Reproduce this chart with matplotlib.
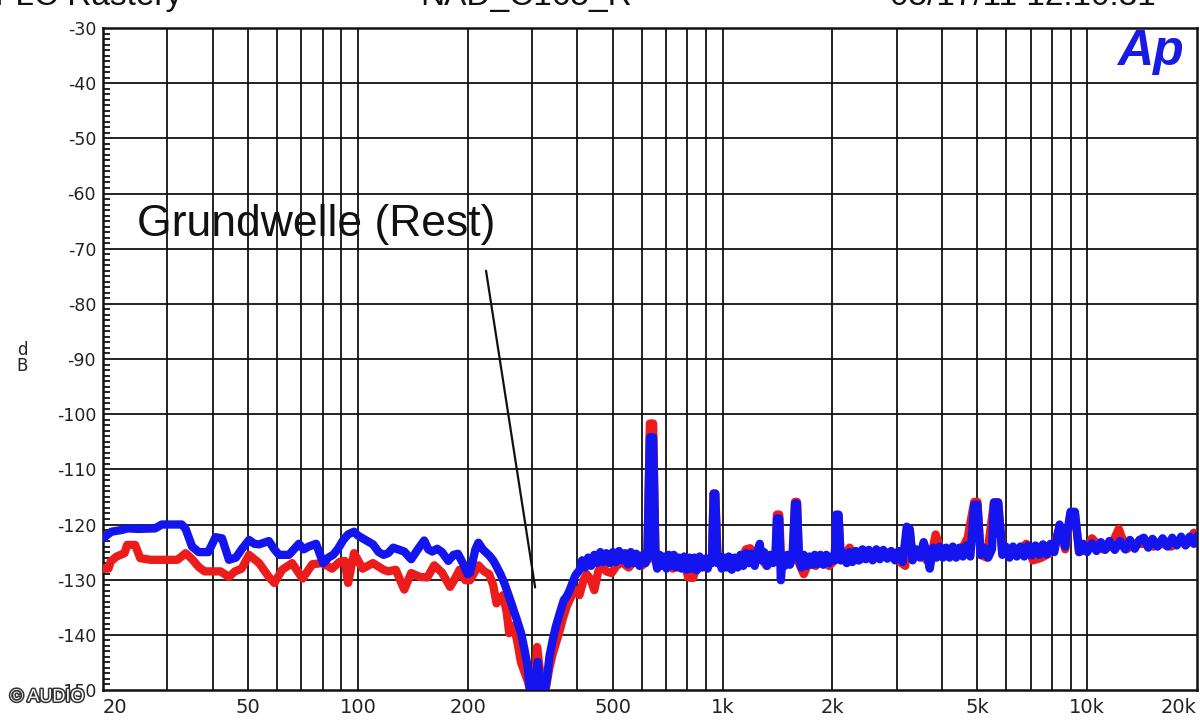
import matplotlib
matplotlib.use("Agg")
import matplotlib.pyplot as plt
import matplotlib.patheffects as pe

plt.rcParams["axes.unicode_minus"] = False

# --- data (frequency in Hz, level in dB) ---
blue_hz = [20, 21.1, 22.5, 23.4, 25, 27.8, 29, 31, 32.9, 33.7, 35.1, 36.6, 38.9, 40.7,
           42.4, 44.3, 46.3, 48, 50.3, 52, 53.6, 57, 59, 60.8, 64.7, 68.9, 71, 73.3,
           76.8, 80.3, 83, 85.5, 88, 91.2, 94, 97.6, 100, 103, 110, 114, 117.6, 121,
           125, 130, 134, 140, 146, 152, 156, 160, 165, 170, 177, 183, 188, 194, 200,
           203, 210, 214, 220, 229, 235, 240, 246, 252, 258, 265, 272, 280, 286, 292,
           296, 303, 308, 311, 314, 318, 326, 330, 335, 342, 349, 358, 367, 374, 381,
           388, 395,
           405, 412, 420, 428, 436, 445, 453, 462, 470, 480, 490, 500, 510, 520, 530,
           540, 550, 560, 570, 580, 592, 605, 615, 622, 632, 645, 655, 662, 672, 682,
           692, 702, 712, 722, 735, 748, 760, 772, 785, 798, 812, 825, 838, 850, 865,
           880, 895, 910, 925, 935, 945, 955, 968, 980, 995, 1010, 1025, 1040, 1060,
           1080, 1100, 1120, 1140, 1160, 1180, 1200, 1225, 1250, 1265, 1280, 1300, 1325,
           1350, 1375, 1395, 1410, 1430, 1445, 1460, 1480, 1505, 1530, 1555, 1580, 1600,
           1620, 1645, 1670, 1700, 1730, 1760, 1790, 1820, 1855, 1890, 1925, 1960, 1995,
           2030, 2050, 2080, 2110, 2150, 2190, 2230, 2270, 2320, 2370, 2420, 2470, 2520,
           2580, 2640, 2700, 2760, 2830, 2900, 2970, 3040, 3120, 3200, 3260, 3320, 3400,
           3480, 3560, 3640, 3700, 3780, 3860, 3940, 4020, 4100, 4190, 4280, 4370, 4460,
           4560, 4660, 4780, 4900, 5000, 5100, 5220, 5350, 5480, 5550, 5700, 5850, 5980,
           6120, 6260, 6410, 6560, 6720, 6880, 7040, 7210, 7380, 7560, 7740, 7930, 8120,
           8400, 8700, 9000, 9250, 9500, 9750, 10000, 10300, 10600, 10900, 11200, 11500,
           11900, 12300, 12700, 13100, 13500, 13900, 14300, 14700, 15100, 15600, 16100,
           16600, 17100, 17600, 18100, 18600, 19100, 19600, 20100, 20500]
blue_db = [-122.5, -121.3, -121.0, -120.7, -120.8, -120.7, -120.0, -120.0, -120.0, -120.8,
           -124.0, -125.0, -125.0, -122.3, -122.5, -126.4, -126.0, -124.5, -122.8, -123.5,
           -123.6, -123.0, -124.5, -125.5, -125.5, -123.5, -124.5, -124.0, -123.5, -127.0,
           -126.0, -125.5, -124.5, -122.8, -121.8, -121.3, -122.0, -122.5, -123.6, -125.0,
           -125.5, -125.2, -124.2, -124.6, -124.9, -126.3, -124.5, -122.9, -124.5, -124.9,
           -124.4, -125.0, -126.6, -125.5, -125.3, -127.0, -129.0, -128.7, -124.5, -123.3,
           -124.5, -125.6, -126.5, -127.6, -129.0, -130.6, -132.5, -134.8, -137.0, -139.6,
           -142.5, -145.7, -150.0, -150.0, -147.0, -144.9, -147.0, -150.0, -150.0, -148.0,
           -144.0, -141.0, -138.5, -136.0, -133.7, -133.0, -131.9, -130.5, -129.2,
           -128.3, -126.5, -127.8, -126.0, -127.5, -125.5, -127.0, -125.0, -126.8, -125.2,
           -127.0, -125.0, -126.8, -124.8, -126.5, -125.2, -127.2, -125.0, -127.0, -125.3,
           -127.5, -125.5, -127.0, -126.0, -104.2, -104.2, -126.5, -128.0, -125.5, -127.5,
           -125.8, -128.0, -125.5, -127.5, -125.5, -127.8, -126.0, -128.0, -125.8, -128.2,
           -126.0, -128.0, -126.0, -128.3, -125.8, -127.8, -126.2, -128.0, -126.0, -127.0,
           -114.4, -114.4, -127.0, -125.8, -128.0, -126.0, -127.8, -125.8, -128.2, -126.0,
           -127.8, -125.5, -127.5, -125.2, -127.0, -125.3, -127.5, -124.5, -123.5, -126.5,
           -125.0, -127.5, -125.5, -127.0, -126.0, -118.9, -118.9, -130.1, -126.0, -127.5,
           -125.5, -127.3, -125.8, -116.2, -116.2, -126.0, -127.8, -125.5, -127.5, -125.8,
           -127.3, -125.5, -127.2, -125.5, -127.3, -125.5, -127.0, -125.8, -126.5, -118.2,
           -118.2, -126.5, -125.2, -127.0, -125.0, -126.8, -124.8, -126.5, -124.5, -126.3,
           -124.6, -126.5, -124.5, -126.3, -124.6, -126.2, -124.8, -126.5, -124.8, -126.8,
           -120.4, -120.8, -126.5, -124.5, -126.0, -123.2, -125.5, -128.0, -124.2, -126.0,
           -124.0, -126.0, -124.2, -126.0, -124.0, -126.0, -124.2, -125.8, -123.8, -125.8,
           -116.4, -116.4, -125.5, -124.2, -126.0, -124.5, -116.0, -116.0, -125.5, -124.0,
           -126.0, -124.0, -125.8, -124.0, -125.8, -123.8, -125.6, -123.8, -125.5, -123.6,
           -125.4, -123.5, -125.0, -120.0, -124.0, -117.7, -117.7, -125.0, -123.5, -125.0,
           -123.4, -124.8, -123.2, -124.6, -123.0, -124.6, -123.0, -124.5, -122.8, -124.4,
           -122.8, -122.4, -124.2, -122.6, -124.0, -122.5, -124.0, -122.4, -123.8, -122.2,
           -123.8, -122.2, -123.5, -122.0, -122.6]

red_hz = [20, 20.7, 21, 21.8, 22.9, 23.3, 24.5, 25.3, 27, 29, 32, 33.7, 35, 36.6, 38, 42,
          44.3, 46, 48, 50.3, 53.6, 57, 59, 62, 66, 70.5, 75, 80, 85, 89, 92, 94, 97.6,
          103, 110, 117.6, 121, 127, 134, 140, 148, 155, 162, 170, 179, 184, 190, 197,
          203, 214, 222, 229, 235, 240, 250, 256, 260, 268, 275, 280, 292, 297, 305, 310,
          315, 320, 328, 335, 342, 356, 365, 374, 385, 395, 405, 416, 424, 435, 445, 456,
          466, 480, 496, 512, 528, 553, 575, 600, 622, 632, 645, 655, 680, 705, 730, 760,
          790, 805, 830, 850, 880, 910, 935, 945, 955, 970, 1000, 1040, 1080, 1120, 1160,
          1190, 1230, 1270, 1320, 1370, 1400, 1410, 1430, 1450, 1500, 1560, 1580, 1600,
          1620, 1670, 1720, 1800, 1880, 1960, 2030, 2050, 2080, 2110, 2230, 2350, 2500,
          2650, 2800, 2950, 3170, 3200, 3260, 3320, 3500, 3700, 3840, 4000, 4200, 4450,
          4700, 4900, 5000, 5100, 5300, 5550, 5700, 5850, 6100, 6450, 6800, 7100, 7500,
          8000, 8400, 8700, 9000, 9250, 9500, 10000, 10300, 11000, 11600, 12200, 12800,
          13500, 14300, 15200, 16000, 17000, 17800, 18800, 19600, 20500]
red_db = [-128.0, -128.0, -126.7, -125.8, -125.2, -123.7, -123.7, -126.1, -126.4, -126.4,
          -126.4, -125.2, -126.2, -127.7, -128.5, -128.5, -129.5, -128.5, -128.0, -125.5,
          -127.0, -129.5, -130.6, -128.2, -127.0, -129.8, -127.2, -127.0, -128.0, -126.8,
          -126.6, -130.6, -125.2, -128.0, -127.0, -128.2, -128.5, -128.2, -131.8, -128.8,
          -129.5, -129.6, -127.4, -128.7, -131.3, -130.0, -128.2, -130.1, -130.1, -127.4,
          -128.5, -129.0, -131.0, -134.3, -132.8, -136.0, -139.7, -138.3, -142.0, -145.0,
          -148.3, -150.0, -150.0, -142.2, -146.0, -150.0, -149.5, -146.0, -143.5, -139.7,
          -137.0, -134.8, -133.0, -131.9, -132.8, -130.0, -129.0, -130.0, -131.9, -128.5,
          -127.4, -128.5, -128.8, -127.5, -126.8, -127.8, -126.5, -127.5, -126.5, -101.7,
          -101.7, -126.5, -127.5, -126.5, -128.0, -126.5, -127.5, -129.6, -129.7, -127.5,
          -126.5, -127.5, -126.5, -114.4, -114.4, -126.5, -127.5, -126.5, -127.5, -126.5,
          -124.5, -124.3, -126.5, -126.0, -127.5, -126.5, -126.5, -118.2, -118.2, -127.5,
          -127.0, -126.5, -115.9, -115.9, -127.0, -129.0, -127.0, -127.5, -126.5, -127.5,
          -126.5, -118.5, -118.5, -126.5, -124.2, -126.5, -125.5, -125.8, -125.0, -126.0,
          -127.5, -121.0, -121.0, -126.0, -125.5, -127.0, -121.8, -125.5, -125.0, -125.5,
          -122.4, -115.9, -115.9, -125.5, -126.0, -116.0, -116.0, -125.0, -125.5, -125.2,
          -123.5, -126.5, -126.0, -125.0, -120.5, -124.5, -118.0, -118.0, -125.0, -124.5,
          -122.5, -124.5, -124.0, -120.8, -124.5, -123.5, -123.5, -124.0, -123.5, -124.0,
          -123.0, -123.5, -121.5, -122.5]

x_ticks = [20, 50, 100, 200, 500, 1000, 2000, 5000, 10000, 20000]
x_labels = ["20", "50", "100", "200", "500", "1k", "2k", "5k", "10k", "20k"]
x_grid = [30, 40, 50, 60, 70, 80, 90, 100, 200, 300, 400, 500, 600, 700, 800, 900,
          1000, 2000, 3000, 4000, 5000, 6000, 7000, 8000, 9000, 10000]
y_ticks = list(range(-150, -29, 10))

note_text = "Grundwelle (Rest)"
note_pos = (24.8, -65.7)
note_line_from = (224, -73.5)
note_line_to = (307, -131.9)

fig = plt.figure(figsize=(12, 7.2), dpi=100)
ax = fig.add_axes([103 / 1200, 30 / 720, 1094 / 1200, 662 / 720])

ax.plot(red_hz, red_db, color="#ec1c1c", lw=6, solid_joinstyle="round",
        solid_capstyle="round", zorder=3)
ax.plot(blue_hz, blue_db, color="#1414ee", lw=6, solid_joinstyle="round",
        solid_capstyle="round", zorder=4)

ax.set_xscale("log")
ax.set_xlim(20, 20000)
ax.set_ylim(-150, -30)

for f in x_grid:
    ax.axvline(f, color="#111111", lw=1.3, zorder=1)
for v in y_ticks[1:-1]:
    ax.axhline(v, color="#111111", lw=1.3, zorder=1)

ax.set_xticks(x_ticks)
ax.set_xticklabels(x_labels)
ax.xaxis.set_minor_locator(matplotlib.ticker.NullLocator())
ax.tick_params(axis="x", length=0, pad=6, labelsize=14, labelcolor="#222222")
labs = ax.get_xticklabels()
labs[0].set_ha("left")
labs[-1].set_ha("right")

ax.set_yticks(y_ticks)
ax.set_yticks(range(-150, -29, 1), minor=True)
ax.tick_params(axis="y", which="both", direction="in", length=5, width=1.2,
               labelsize=12.5, pad=5, labelcolor="#222222", right=False)
ax.tick_params(axis="y", which="major", length=0)

for s in ax.spines.values():
    s.set_linewidth(1.8)
    s.set_color("#111111")

fig.text(22 / 1200, 1 - 358 / 720, "d\nB", ha="center", va="center",
         fontsize=12, linespacing=0.9, color="#222222")

ax.text(*note_pos, note_text, fontsize=32, family="Liberation Sans",
        va="center", ha="left", color="#111111", zorder=5)
ax.annotate("", xy=note_line_to, xytext=note_line_from,
            arrowprops=dict(arrowstyle="-", color="#111111", lw=1.6), zorder=5)

# header texts, cut off at the top edge as in the scan
fig.text(-0.004, 1 - 5 / 720, "FLC Rastery", fontsize=24, family="Liberation Sans",
         va="baseline", ha="left", color="#111111")
fig.text(420 / 1200, 1 - 5 / 720, "NAD_C165_R", fontsize=24, family="Liberation Sans",
         va="baseline", ha="left", color="#111111")
fig.text(890 / 1200, 1 - 5 / 720, "05/17/11 12:10:31", fontsize=24,
         family="Liberation Sans", va="baseline", ha="left", color="#111111")

# Ap logo
fig.text(1150 / 1200, 1 - 52 / 720, "Ap", fontsize=36, family="Liberation Sans",
         weight="bold", style="italic", color="#1a1ae6", ha="center", va="center")

# watermark
fig.text(10 / 1200, 1 - 697 / 720, "© AUDIO", fontsize=13, family="Liberation Sans",
         color="white", ha="left", va="center",
         path_effects=[pe.withStroke(linewidth=2.2, foreground="#333333")])

fig.savefig("out.png", dpi=100)
